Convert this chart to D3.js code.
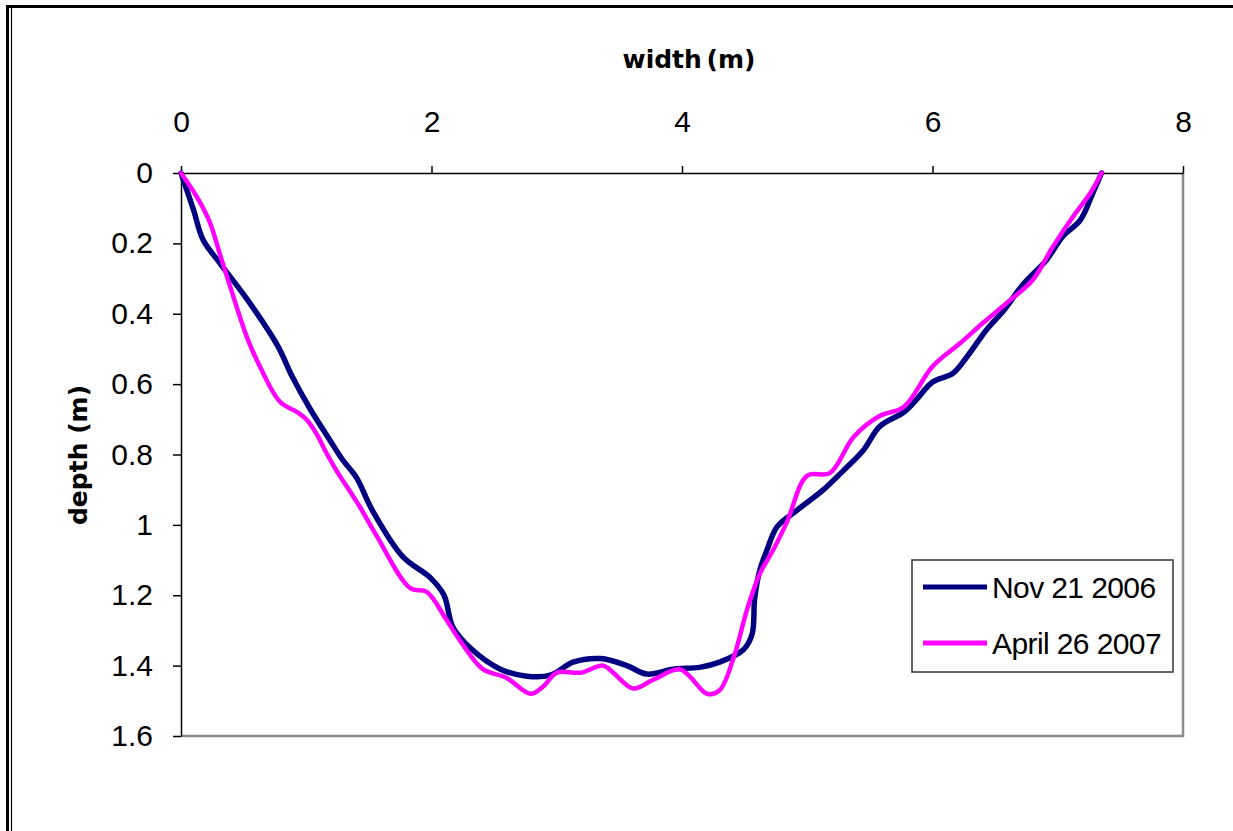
<!DOCTYPE html>
<html>
<head>
<meta charset="utf-8">
<script src="https://cdn.jsdelivr.net/npm/d3@7"></script>
<style>
  body { margin: 0; background: #fff; }
  svg { display: block; }
</style>
</head>
<body>
<svg id="canvas" width="1233" height="831"></svg>
<script>
// data
let novX = [0, 0.1, 0.176, 0.31, 0.53, 0.77, 0.89, 1.03, 1.19, 1.29, 1.40,
            1.53, 1.77, 1.99, 2.10, 2.17, 2.31, 2.55, 2.76, 2.95, 3.13,
            3.35, 3.56, 3.72, 3.93, 4.14, 4.30, 4.49, 4.56, 4.58, 4.62,
            4.68, 4.76, 4.92, 5.13, 5.29, 5.45, 5.58, 5.77, 5.87, 6.0,
            6.16, 6.28, 6.43, 6.57, 6.72, 6.91, 7.04, 7.18, 7.28, 7.35]
let novY = [0, 0.105, 0.19, 0.256, 0.36, 0.49, 0.58, 0.67, 0.76, 0.815, 0.865,
            0.96, 1.09, 1.15, 1.20, 1.29, 1.35, 1.41, 1.43, 1.427, 1.39,
            1.38, 1.40, 1.424, 1.41, 1.405, 1.39, 1.355, 1.31, 1.21, 1.13,
            1.07, 1.005, 0.958, 0.90, 0.845, 0.787, 0.72, 0.68, 0.645, 0.594,
            0.57, 0.52, 0.446, 0.39, 0.318, 0.247, 0.18, 0.134, 0.057, 0]

let aprX = [0, 0.13, 0.23, 0.31, 0.39, 0.53, 0.63, 0.79, 0.93, 1.0,
            1.08, 1.16, 1.24, 1.43, 1.56, 1.83, 1.96, 2.12, 2.23, 2.41,
            2.60, 2.79, 2.89, 3.0, 3.19, 3.37, 3.45, 3.61, 3.77, 3.98,
            4.06, 4.20, 4.30, 4.41, 4.52, 4.62, 4.73, 4.84, 5.0, 5.18,
            5.37, 5.58, 5.77, 6.0, 6.22, 6.40, 6.59, 6.80, 6.96, 7.12,
            7.26, 7.35]
let aprY = [0, 0.07, 0.14, 0.23, 0.32, 0.47, 0.55, 0.65, 0.68, 0.70,
            0.74, 0.795, 0.845, 0.95, 1.03, 1.18, 1.19, 1.27, 1.33, 1.41,
            1.435, 1.48, 1.46, 1.42, 1.42, 1.40, 1.42, 1.465, 1.44, 1.41,
            1.43, 1.48, 1.47, 1.38, 1.24, 1.14, 1.07, 0.99, 0.86, 0.853,
            0.75, 0.69, 0.665, 0.55, 0.484, 0.427, 0.37, 0.304, 0.21, 0.125,
            0.057, 0]

let seriesNames = ['Nov 21 2006', 'April 26 2007']
let seriesColors = ['#000080', '#ff00ff']

let xTicks = [0, 2, 4, 6, 8]
let yTicks = [0, 0.2, 0.4, 0.6, 0.8, 1, 1.2, 1.4, 1.6]
let yTickLabels = ['0', '0.2', '0.4', '0.6', '0.8', '1', '1.2', '1.4', '1.6']

let canvas = d3.select('#canvas')

// outer frame
canvas.append('line').attr('x1', 6).attr('x2', 1233).attr('y1', 6.5).attr('y2', 6.5)
    .attr('stroke', '#000').attr('stroke-width', 3)
canvas.append('line').attr('x1', 7.5).attr('x2', 7.5).attr('y1', 5).attr('y2', 831)
    .attr('stroke', '#000').attr('stroke-width', 3)
canvas.append('line').attr('x1', 11.5).attr('x2', 11.5).attr('y1', 8).attr('y2', 831)
    .attr('stroke', '#000').attr('stroke-width', 1.2)

let pLeft = 181, pRight = 1183, pTop = 173, pBottom = 736

let x = d3.scaleLinear().domain([0, 8]).range([pLeft, pRight])
let y = d3.scaleLinear().domain([0, 1.6]).range([pTop, pBottom])

// plot area border (right + bottom, gray)
canvas.append('path')
    .attr('d', `M${pLeft},${pBottom}H${pRight}V${pTop}`)
    .attr('fill', 'none').attr('stroke', '#8c8c8c').attr('stroke-width', 2.5)

let xAxis = canvas.append('g')
    .attr('transform', `translate(0,${pTop})`)
    .call(d3.axisTop(x).tickValues(xTicks).tickSize(7).tickSizeOuter(0).tickPadding(34).tickFormat(d3.format('d')))
let yAxis = canvas.append('g')
    .attr('transform', `translate(${pLeft},0)`)
    .call(d3.axisLeft(y).tickValues(yTicks).tickSize(8).tickSizeOuter(0).tickPadding(20)
        .tickFormat((d, i) => yTickLabels[i]))

canvas.selectAll('.domain, .tick line').attr('stroke', '#000').attr('stroke-width', 1.5)
canvas.selectAll('.tick text')
    .attr('fill', '#000')
    .style('font-family', '"Liberation Sans", Arial, sans-serif')
    .style('font-size', '30px')

// axis titles
canvas.append('text')
    .attr('x', 689).attr('y', 68)
    .attr('text-anchor', 'middle')
    .style('font-family', '"DejaVu Sans", Verdana, sans-serif')
    .style('font-weight', 'bold')
    .style('font-size', '25px')
    .style('word-spacing', '-4px')
    .text('width (m)')
canvas.append('text')
    .attr('transform', 'translate(87,455) rotate(-90)')
    .attr('text-anchor', 'middle')
    .style('font-family', '"DejaVu Sans", Verdana, sans-serif')
    .style('font-weight', 'bold')
    .style('font-size', '25px')
    .text('depth (m)')

// lines
let line = d3.line()
    .x(d => x(d[0]))
    .y(d => y(d[1]))
    .curve(d3.curveCatmullRom.alpha(0.5))

let series = [
    novX.map((v, i) => [v, novY[i]]),
    aprX.map((v, i) => [v, aprY[i]])
]
let widths = [5.5, 4.5]

canvas.selectAll('path.series')
    .data(series)
    .enter()
    .append('path')
    .attr('class', 'series')
    .attr('d', line)
    .attr('fill', 'none')
    .attr('stroke', (d, i) => seriesColors[i])
    .attr('stroke-width', (d, i) => widths[i])
    .attr('stroke-linejoin', 'round')
    .attr('stroke-linecap', 'round')

// legend
let legend = canvas.append('g')
legend.append('rect')
    .attr('x', 912).attr('y', 560).attr('width', 261).attr('height', 112)
    .attr('fill', '#fff').attr('stroke', '#333').attr('stroke-width', 1.5)

let items = legend.selectAll('g.item')
    .data(seriesNames)
    .enter()
    .append('g')
    .attr('class', 'item')
    .attr('transform', (d, i) => `translate(0,${587 + i * 56})`)
items.append('line')
    .attr('x1', 923).attr('x2', 987)
    .attr('stroke', (d, i) => seriesColors[i])
    .attr('stroke-width', 5)
items.append('text')
    .attr('x', 992).attr('y', 11)
    .style('font-family', '"Liberation Sans", Arial, sans-serif')
    .style('font-size', '30px')
    .style('letter-spacing', '-0.6px')
    .text(d => d)
</script>
</body>
</html>
